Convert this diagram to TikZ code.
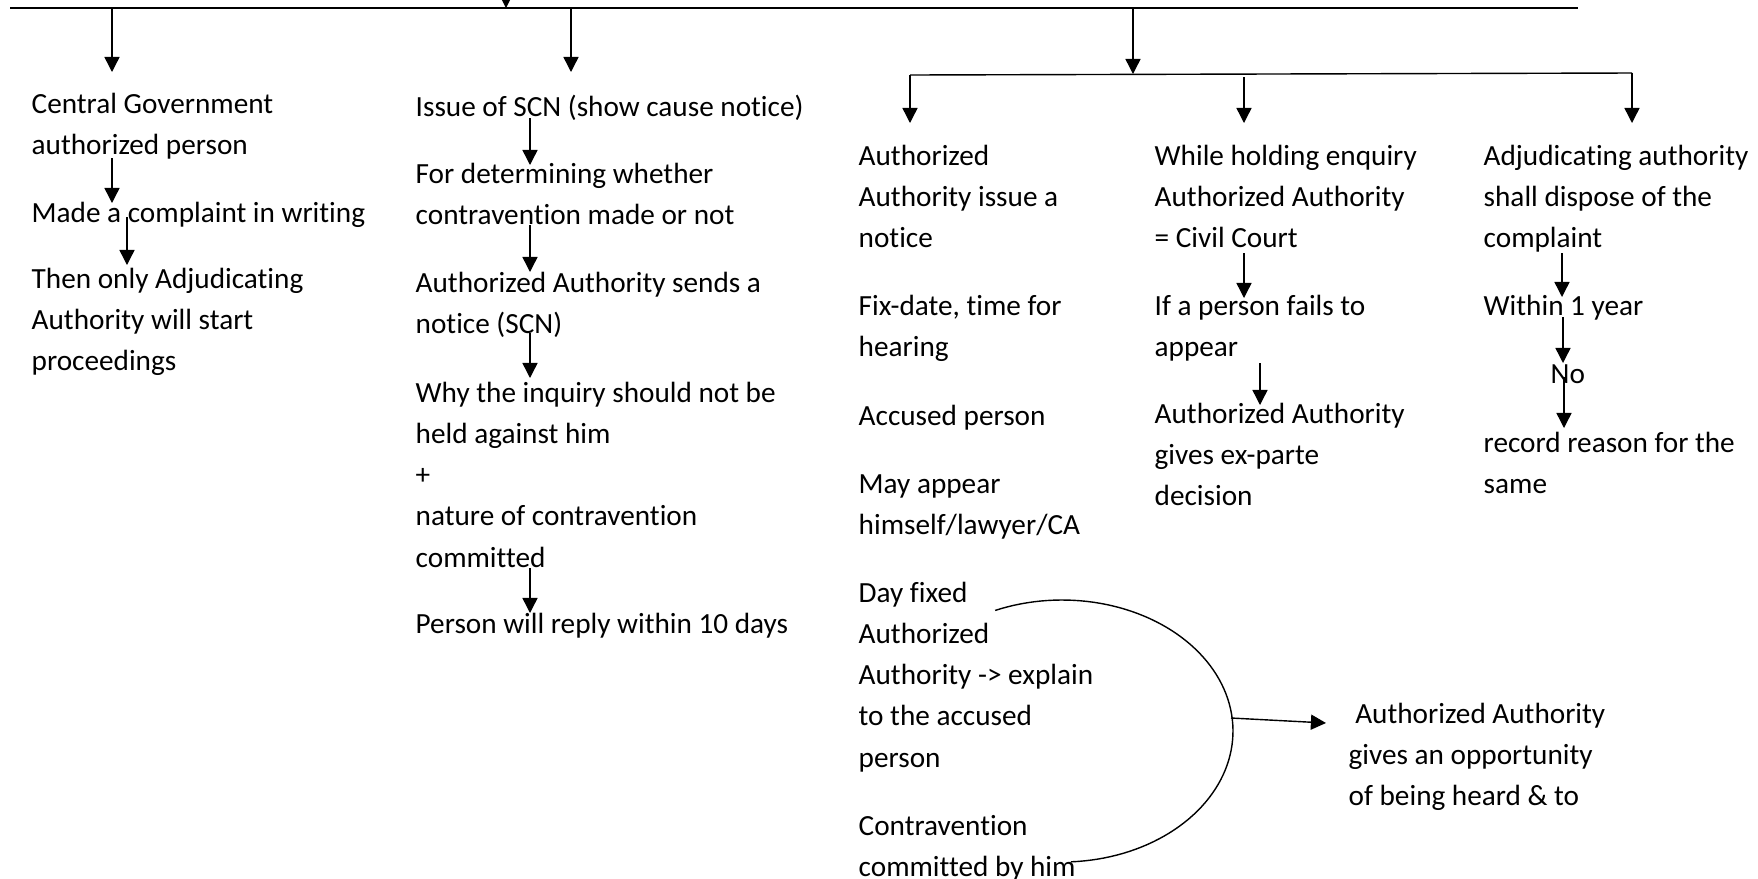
\documentclass[tikz,border=0pt]{standalone}
\usepackage{fontspec}
\setmainfont{Carlito}[Ligatures=NoCommon]
\usetikzlibrary{arrows.meta}
\newcommand\diagfont{\fontsize{8.32pt}{11.75pt}\selectfont}
\newcommand\diagspace{\spaceskip 0.226em\relax\xspaceskip 0.226em\relax}
\begin{document}
\begin{tikzpicture}[x=0.1mm,y=-0.1mm,
  txt/.style={anchor=base west, inner sep=0pt, align=left, text width=80mm,
    font=\diagfont, execute at begin node=\diagspace},
  arr/.style={-{Triangle[width=4.3pt,length=4.3pt]}, line width=0.4pt},
  ln/.style={line width=0.4pt}]
\useasboundingbox (0,0) rectangle (1758,879);
\clip (0,0) rectangle (1758,879);

% ---- text blocks ----
\node[txt] (c1a) at (31,113) {Central Government\\authorized person};
\node[txt] (c1b) at (31,222) {Made a complaint in writing};
\node[txt] (c1c) at (31,288) {Then only Adjudicating\\Authority will start\\proceedings};

\node[txt] (c2a) at (415,116) {Issue of SCN (show cause notice)};
\node[txt] (c2b) at (415,183) {For determining whether\\contravention made or not};
\node[txt] (c2c) at (415,292) {Authorized Authority sends a\\notice (SCN)};
\node[txt] (c2d) at (415,402) {Why the inquiry should not be\\held against him\\+\\nature of contravention\\committed};
\node[txt] (c2e) at (415,633) {Person will reply within 10 days};

\node[txt] (d1) at (858,165) {Authorized\\Authority issue a\\notice};
\node[txt] (d2) at (858,315) {Fix-date, time for\\hearing};
\node[txt] (d3) at (858,425) {Accused person};
\node[txt] (d4) at (858,493) {May appear\\himself/lawyer/CA};
\node[txt] (d5) at (858,602) {Day fixed\\Authorized\\Authority -> explain\\to the accused\\person};
\node[txt] (d6) at (858,835) {Contravention\\committed by him};

\node[txt] (e1) at (1154,165) {While holding enquiry\\Authorized Authority\\= Civil Court};
\node[txt] (e2) at (1154,315) {If a person fails to\\appear};
\node[txt] (e3) at (1154,423) {Authorized Authority\\gives ex-parte\\decision};

\node[txt] (f1) at (1483,165) {Adjudicating authority\\shall dispose of the\\complaint};
\node[txt] (f2) at (1483,315) {Within 1 year};
\node[txt] (f3) at (1550,383) {No};
\node[txt] (f4) at (1483,452) {record reason for the\\same};

\node[txt] (g) at (1348,723) {\hspace*{0.66mm}Authorized Authority\\gives an opportunity\\of being heard \& to};

% ---- horizontal bars ----
\coordinate (tl) at (10,8);
\coordinate (tr) at (1578,8);
\draw[ln] (tl) -- (tr);
\coordinate (sl) at (910,75);
\coordinate (sr) at (1632,73);
\draw[ln] (sl) -- (sr);

% ---- arrows ----
\foreach \n/\x/\ya/\yb in {
  top/506/-40/8,
  b1/112/8/72, b2/571/8/72, b3/1133/8/74,
  s1/910/75/123, s2/1244/77/123, s3/1632/73/123,
  a1/112/158/203, a2/127/217/265,
  a3/530/118/165, a4/530/225/272, a5/530/333/378, a6/530/568/613,
  a7/1244/253/298, a8/1260/363/405,
  a9/1562/253/297, a10/1563/317/363, a11/1564/377/428}
{
  \coordinate (\n s) at (\x,\ya);
  \coordinate (\n e) at (\x,\yb);
  \draw[arr] (\n s) -- (\n e);
}

% ---- arc and outgoing arrow ----
\draw[ln] plot[domain=113:-87, samples=90, variable=\t]
  ({1062+171*cos(\t)},{731-131*sin(\t)});
\coordinate (arcR) at (1231,718);
\coordinate (gin) at (1326,723);
\draw[arr] (arcR) -- (gin);
\end{tikzpicture}
\end{document}
